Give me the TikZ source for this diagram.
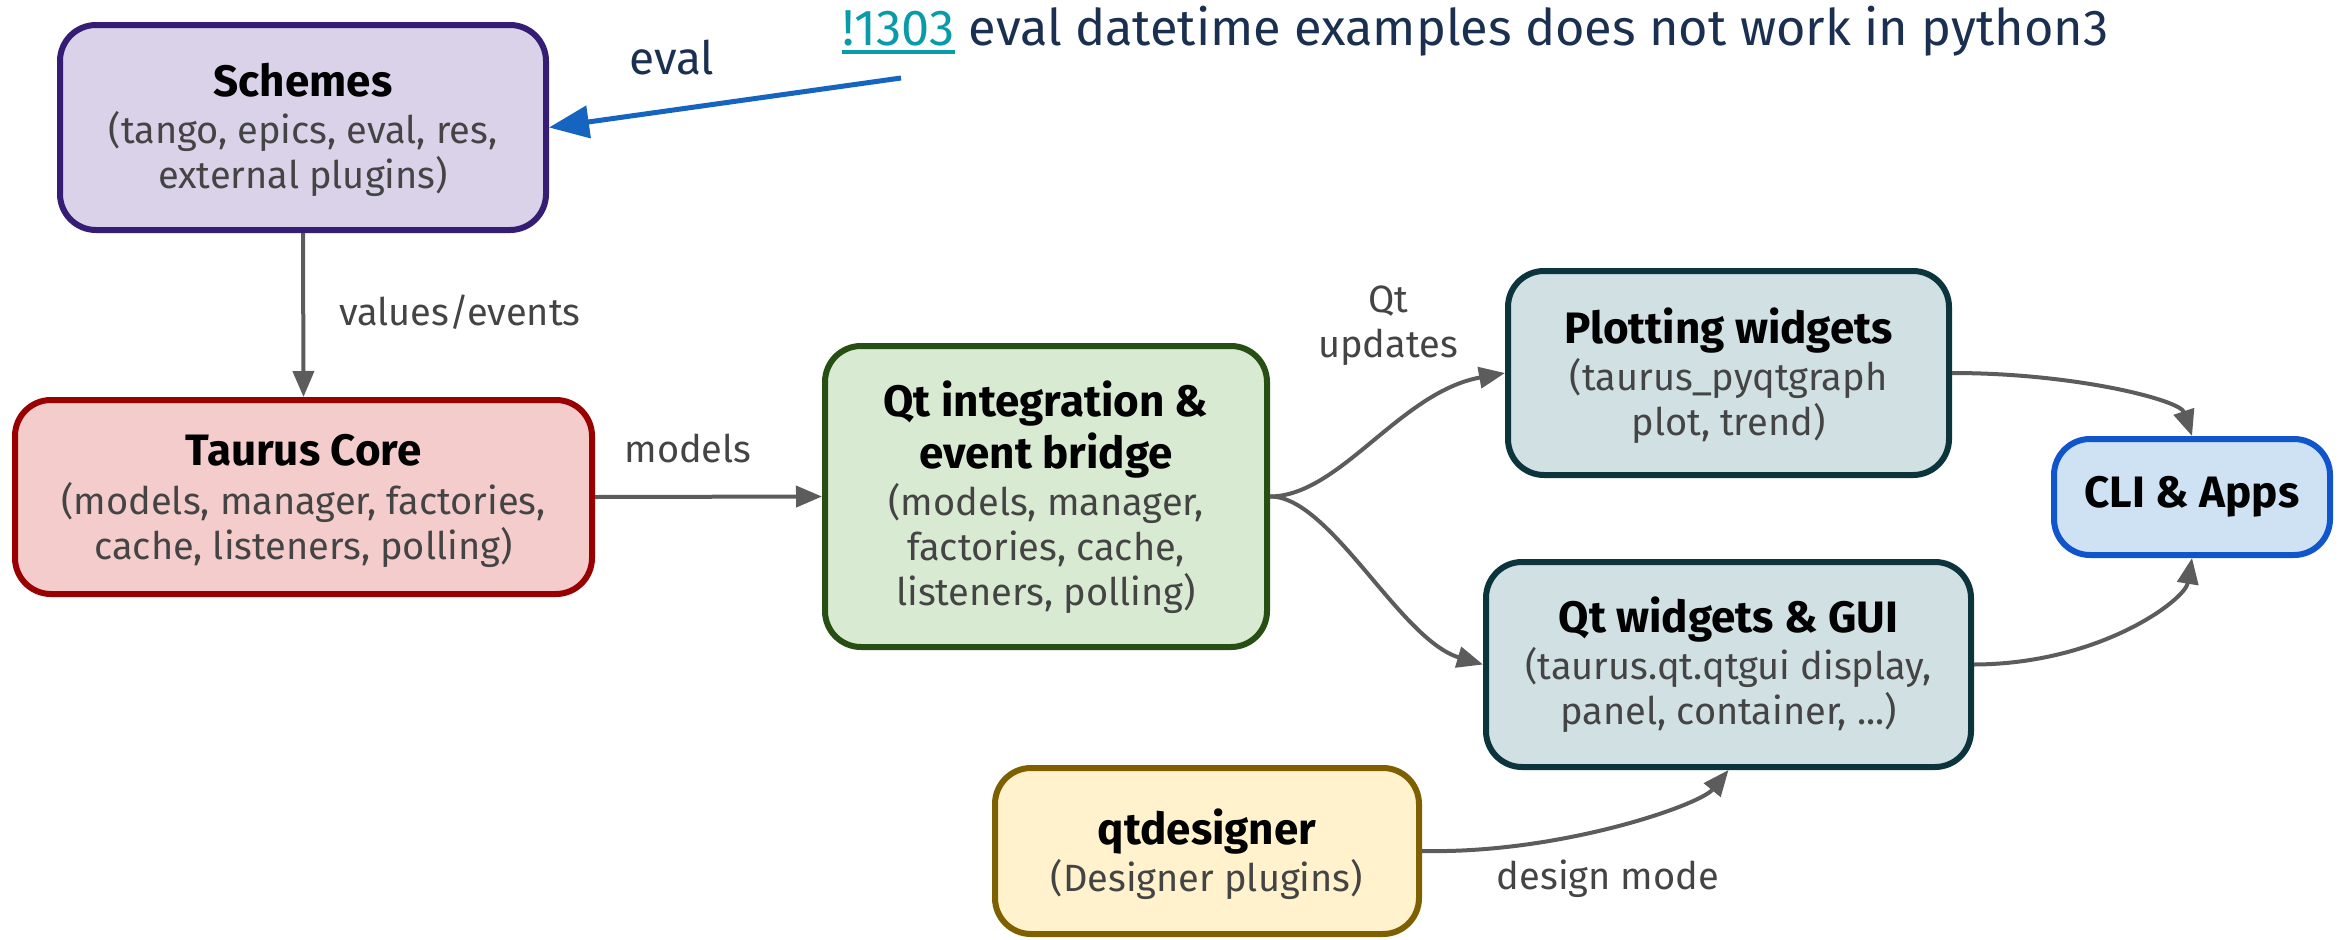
\documentclass[tikz,border=0pt]{standalone}
\usepackage{fontspec}
\setmainfont{Fira Sans}
\usetikzlibrary{arrows.meta}
\definecolor{schfill}{HTML}{D9D2E9}\definecolor{schdraw}{HTML}{351C75}
\definecolor{corefill}{HTML}{F4CCCC}\definecolor{coredraw}{HTML}{990000}
\definecolor{qtfill}{HTML}{D9EAD3}\definecolor{qtdraw}{HTML}{274E13}
\definecolor{wfill}{HTML}{D0E0E3}\definecolor{wdraw}{HTML}{0C343D}
\definecolor{clifill}{HTML}{CFE2F3}\definecolor{clidraw}{HTML}{1155CC}
\definecolor{desfill}{HTML}{FFF2CC}\definecolor{desdraw}{HTML}{7F6000}
\definecolor{bodycol}{HTML}{444444}
\definecolor{conncol}{HTML}{5C5C5C}
\definecolor{annblue}{HTML}{1565C0}
\definecolor{issuecol}{HTML}{0A9BA8}
\definecolor{navy}{HTML}{1B3050}
\newcommand\ttlfont{\fontsize{44}{51}\selectfont\bfseries\color{black}}
\newcommand\bdyfont{\fontsize{38}{45}\selectfont}
\newcommand\topstrut[1]{\rule{0pt}{#1}}
\begin{document}
\begin{tikzpicture}[x=1pt,y=-1pt,
  box/.style={draw, rounded corners=36pt, line width=6pt, align=center,
    font=\bdyfont, text=bodycol, inner sep=0pt},
  conn/.style={draw=conncol, line width=4pt, -{Triangle[length=26pt,width=21pt]}},
  lbl/.style={font=\bdyfont, text=bodycol, inner sep=0pt}]
\useasboundingbox (0,0) rectangle (2346,940);

\node[box, fill=schfill, draw=schdraw, minimum width=486pt, minimum height=205pt]
  (schemes) at (303,127.5) {{\ttlfont\topstrut{39pt}Schemes}\\[2pt](tango, epics, eval, res,\\external plugins)};
\node[box, fill=corefill, draw=coredraw, minimum width=577pt, minimum height=194pt]
  (core) at (303.5,497) {{\ttlfont\topstrut{39pt}Taurus Core}\\[4pt](models, manager, factories,\\cache, listeners, polling)};
\node[box, fill=qtfill, draw=qtdraw, minimum width=442pt, minimum height=301pt]
  (qtint) at (1046,496.5) {{\ttlfont\topstrut{37pt}Qt integration \&}\\[6pt]{\ttlfont event bridge}\\[2pt](models, manager,\\factories, cache,\\listeners, polling)};
\node[box, fill=wfill, draw=wdraw, minimum width=441pt, minimum height=204pt]
  (plot) at (1728.5,373) {{\ttlfont\topstrut{42pt}Plotting widgets}\\[2pt](taurus\_pyqtgraph\\plot, trend)};
\node[box, fill=wfill, draw=wdraw, minimum width=485pt, minimum height=205pt]
  (gui) at (1728.5,664.5) {{\ttlfont Qt widgets \& GUI}\\[2pt](taurus.qt.qtgui display,\\panel, container, ...)};
\node[box, fill=clifill, draw=clidraw, minimum width=276pt, minimum height=116pt]
  (cli) at (2192,497) {{\ttlfont CLI \& Apps}};
\node[box, fill=desfill, draw=desdraw, minimum width=424pt, minimum height=166pt]
  (des) at (1207,851) {{\ttlfont\topstrut{42pt}qtdesigner}\\[2pt](Designer plugins)};

% connectors
\draw[conn] (schemes.south) -- (core.north);
\draw[conn] (core.east) -- (qtint.west);
\draw[conn] (qtint.east) .. controls (1340,496) and (1400,392) .. (plot.west);
\draw[conn] (qtint.east) .. controls (1330,496) and (1400,640) .. (gui.west);
\draw[conn] (plot.east) .. controls (2075,373) and (2180,400) .. (cli.north);
\draw[conn] (gui.east) .. controls (2100,664) and (2185,600) .. (cli.south);
\draw[conn] (des.east) .. controls (1560,854) and (1700,805) .. (gui.south);

% labels
\node[lbl, anchor=base west] (lvalues) at (339,325) {values/events};
\node[lbl, anchor=base] (lmodels) at (688,462) {models};
\node[lbl, align=center, anchor=center] (lqt) at (1388,326) {Qt\\updates};
\node[lbl, anchor=base] (ldesign) at (1608,889) {design mode};

% annotation
\node[inner sep=0pt, anchor=base west, font=\fontsize{50.5}{60}\selectfont, text=issuecol]
  (issuenum) at (842,45) {!1303};
\node[inner sep=0pt, anchor=base west, font=\fontsize{50.5}{60}\selectfont, text=navy]
  (issuetxt) at ([xshift=14pt]issuenum.base east) {eval datetime examples does not work in python3};
\draw[issuecol, line width=4pt] ([yshift=-7pt]issuenum.base west) -- ([yshift=-7pt]issuenum.base east);
\coordinate (annstart) at (901,78);
\draw[annblue, line width=5pt, -{Triangle[length=40pt,width=32pt]}] (annstart) -- (schemes.east);
\node[inner sep=0pt, anchor=base, font=\fontsize{46}{54}\selectfont, text=navy] (leval) at (672,74) {eval};
\end{tikzpicture}
\end{document}
